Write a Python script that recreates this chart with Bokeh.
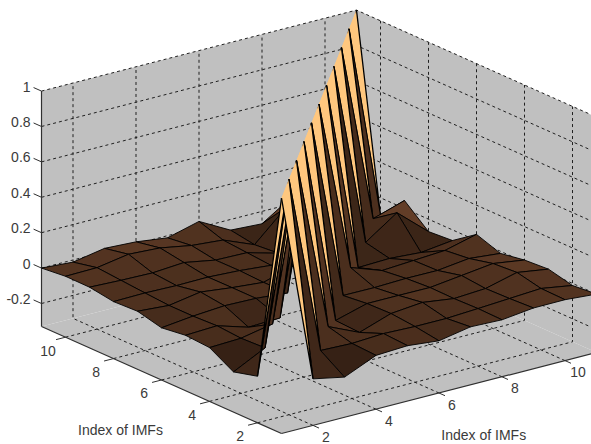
from bokeh.plotting import figure
from bokeh.models import Range1d
from bokeh.core.properties import value
from bokeh.embed import file_html
from bokeh.resources import INLINE

# upper triangle of the symmetric correlation surface (diagonal = 1)
row_1 = [-.067, -.103, -.026, -.017, -.035, -.002, -.008, .013, .014, .000]
row_2 = [-.013, -.019, -.009, -.015, -.015, -.005, .006, .017, -.012]
row_3 = [.016, -.063, -.002, .015, -.009, .002, .047, .020]
row_4 = [-.056, -.006, -.006, -.007, .015, .037, .011]
row_5 = [-.021, -.022, -.016, -.017, .005, -.012]
row_6 = [.031, -.032, -.021, -.010, .035]
row_7 = [-.076, -.070, -.082, -.060]
row_8 = [-.040, .082, -.070]
row_9 = [-.012, .045]
row_10 = [-.100]
rows = [row_1, row_2, row_3, row_4, row_5, row_6, row_7, row_8, row_9, row_10]

xy_ticks = [2, 4, 6, 8, 10]
z_ticks = [-0.2, 0, 0.2, 0.4, 0.6, 0.8, 1]
z_tick_labels = ["-0.2", "0", "0.2", "0.4", "0.6", "0.8", "1"]
axis_title = "Index of IMFs"
Z_MIN, Z_MAX = -0.33, 1.0

N = 11
Z = [[1.0] * N for _ in range(N)]
for i, r in enumerate(rows):
    for k, v in enumerate(r):
        Z[i][i + 1 + k] = v
        Z[i + 1 + k][i] = v


def proj(x, y, z):
    """Oblique view of the 3-D box onto page pixels."""
    return (281 + 31.5 * (x - 1) - 24.0 * (y - 1),
            433 - 8.1 * (x - 1) - 10.7 * (y - 1) - 177.0 * (z - Z_MIN))


def copper(z):
    v = max(0.0, min(1.0, (z - Z_MIN) / (Z_MAX - Z_MIN)))
    r, g, b = min(1.0, 1.25 * v), 0.7812 * v, 0.4975 * v
    return "#%02x%02x%02x" % (int(r * 255), int(g * 255), int(b * 255))


p = figure(width=591, height=444, output_backend="svg", toolbar_location=None,
           x_range=Range1d(0, 591), y_range=Range1d(444, 0),
           min_border=0, outline_line_color=None)
p.axis.visible = False
p.grid.visible = False
p.background_fill_color = "white"


def poly(pts):
    q = [proj(*c) for c in pts]
    return [c[0] for c in q], [c[1] for c in q]


# box walls and floor
walls = [
    [(1, 11, Z_MIN), (1, 11, Z_MAX), (11, 11, Z_MAX), (11, 11, Z_MIN)],
    [(11, 11, Z_MIN), (11, 11, Z_MAX), (11, 1, Z_MAX), (11, 1, Z_MIN)],
    [(1, 1, Z_MIN), (11, 1, Z_MIN), (11, 11, Z_MIN), (1, 11, Z_MIN)],
]
wx, wy = zip(*[poly(w) for w in walls])
p.patches(list(wx), list(wy), fill_color="#c0c0c0", line_color=None)

# dashed grid
segs = []
for t in xy_ticks:
    segs.append([(t, 1, Z_MIN), (t, 11, Z_MIN), (t, 11, Z_MAX)])
    segs.append([(1, t, Z_MIN), (11, t, Z_MIN), (11, t, Z_MAX)])
for t in z_ticks:
    segs.append([(1, 11, t), (11, 11, t), (11, 1, t)])
segs.append([(11, 11, Z_MIN), (11, 11, Z_MAX)])
sx, sy = zip(*[poly(s) for s in segs])
p.multi_line(list(sx), list(sy), line_color="#202020", line_width=1, line_dash="3 3")

# solid box lines
solid = [[(1, 11, Z_MAX), (1, 11, Z_MIN)], [(1, 11, Z_MIN), (1, 1, Z_MIN)], [(1, 1, Z_MIN), (11, 1, Z_MIN)]]
bx, by = zip(*[poly(s) for s in solid])
p.multi_line(list(bx), list(by), line_color="#303030", line_width=1.2)

# tick marks
ticks = []
for t in z_ticks:
    ticks.append([(1, 11, t), (1, 11.33, t)])
for t in xy_ticks:
    ticks.append([(1, t, Z_MIN), (0.7, t, Z_MIN)])
    ticks.append([(t, 1, Z_MIN), (t, 0.75, Z_MIN)])
tx, ty = zip(*[poly(s) for s in ticks])
p.multi_line(list(tx), list(ty), line_color="#303030", line_width=1)


def P(i, j):
    return (i + 1, j + 1, Z[i][j])


def draw_cell(i, j):
    a, b = poly([P(i, j), P(i + 1, j), P(i + 1, j + 1), P(i, j + 1)])
    p.patch(a, b, fill_color=copper(Z[i][j]), line_color="#000000", line_width=0.9)


def draw_ridge(i, low):
    """Half of a diagonal cell: filled to the ridge, no stroke along the ridge."""
    a, b = poly([P(i, i), low, P(i + 1, i + 1)])
    p.patch(a, b, fill_color=copper(Z[i][i]), line_color=None)
    p.line(a, b, line_color="#000000", line_width=1.3)


def depth(c):
    return -(22.6 * c[0] + 29.6 * c[1])


# the side of the ridge that faces away from the viewer first, far cells first
for i, j in sorted(((i, j) for i in range(N - 1) for j in range(N - 1) if j >= i), key=depth):
    if i == j:
        draw_ridge(i, P(i, i + 1))
    else:
        draw_cell(i, j)
for i, j in sorted(((i, j) for i in range(N - 1) for j in range(N - 1) if i >= j), key=depth):
    if i == j:
        draw_ridge(i, P(i + 1, i))
    else:
        draw_cell(i, j)

font = value("Liberation Sans")
txt = dict(text_font=font, text_font_size="14px", text_color="#3a3a3a", text_baseline="middle")

zx, zy = zip(*[proj(1, 11.33, t) for t in z_ticks])
p.text(list(zx), list(zy), text=z_tick_labels, text_align="right", x_offset=-3, y_offset=-1, **txt)

lab = [str(t) for t in xy_ticks]
yx, yy = zip(*[proj(0.7, t, Z_MIN) for t in xy_ticks])
p.text(list(yx), list(yy), text=lab, text_align="center", x_offset=-8, y_offset=11, **txt)
xx, xy = zip(*[proj(t, 0.75, Z_MIN) for t in xy_ticks])
p.text(list(xx), list(xy), text=lab, text_align="center", x_offset=7, y_offset=9, **txt)

tl = proj(1, 4, Z_MIN)
tr = proj(6.5, 1, Z_MIN)
p.text([tl[0], tr[0]], [tl[1], tr[1]], text=[axis_title, axis_title], text_align="center",
       x_offset=[-89, 29], y_offset=[29, 46], **txt)

open("out.html", "w").write(file_html(p, INLINE))
